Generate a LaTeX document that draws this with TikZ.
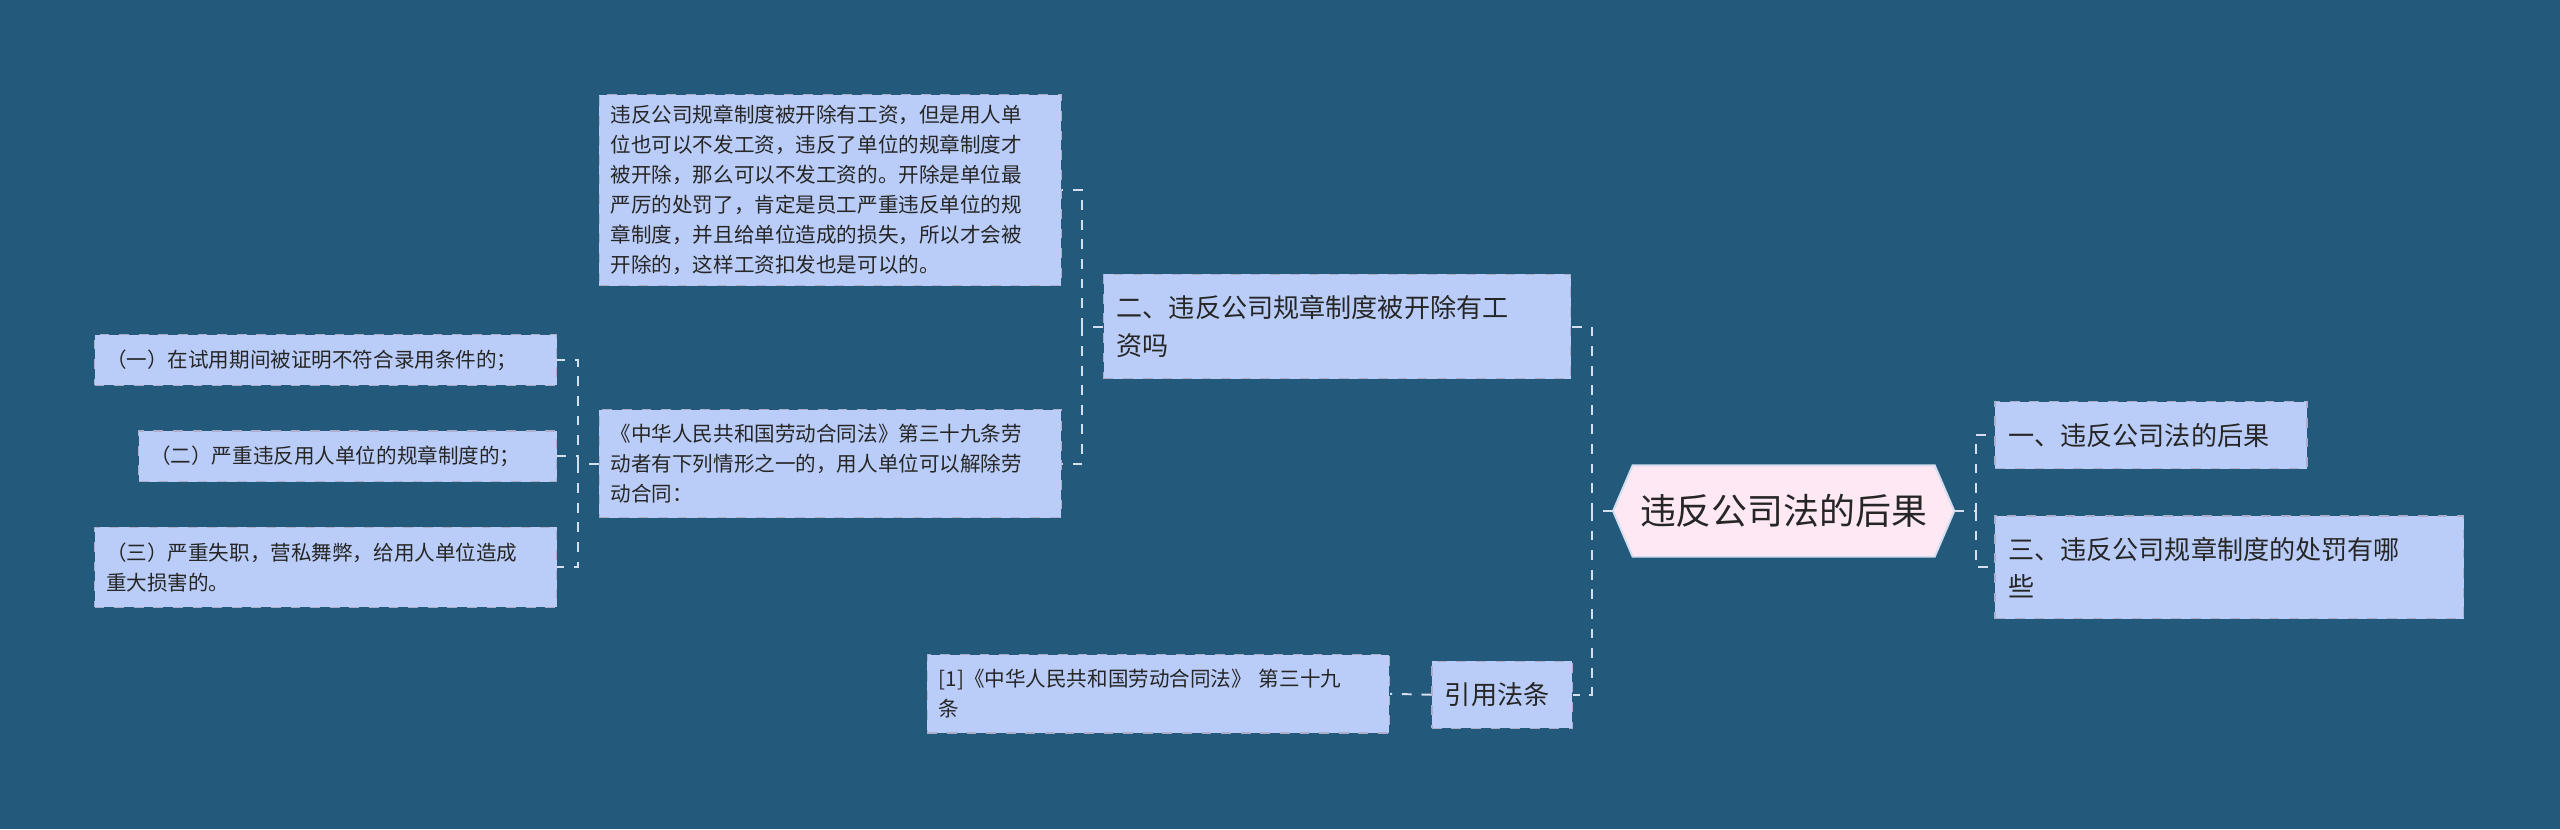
\documentclass[tikz,border=0pt]{standalone}
\usepackage{fontspec}
\setmainfont{Noto Sans CJK SC}
\begin{document}
\begin{tikzpicture}[x=0.5pt,y=-0.5pt,
 box/.style={draw=white!80!blue!60!gray,dashed,fill=boxc,align=left,inner sep=0pt,text=black!85,font=\fontsize{6.3}{9.2}\selectfont},
 big/.style={box,font=\fontsize{8}{11.5}\selectfont},
 conn/.style={draw=linec,dashed,line width=0.6pt}]
\definecolor{bgc}{HTML}{235A7C}
\definecolor{boxc}{HTML}{BACDF8}
\definecolor{linec}{HTML}{D5DEEE}
\definecolor{pinkc}{HTML}{FDE8F4}
\fill[bgc] (0,0) rectangle (1568,508);
\useasboundingbox (0,0) rectangle (1568,508);
% center
\draw[draw=linec,fill=pinkc,line width=0.6pt] (988,313) -- (1000,285) -- (1185,285) -- (1197,313) -- (1185,341) -- (1000,341) -- cycle;
\node[font=\fontsize{11}{13}\selectfont,text=black!85] (c) at (1092.5,313) {违反公司法的后果};
\coordinate (cl) at (988,313); \coordinate (cr) at (1197,313);
% right
\node[big,minimum width=191*0.5pt,minimum height=41*0.5pt,text width=175*0.5pt] (r1) at (1317.5,266.5) {一、违反公司法的后果};
\node[big,minimum width=287*0.5pt,minimum height=63*0.5pt,text width=271*0.5pt] (r2) at (1365.5,347.5) {三、违反公司规章制度的处罚有哪\\些};
% left level 1
\node[big,minimum width=286*0.5pt,minimum height=64*0.5pt,text width=270*0.5pt] (l1) at (819,200) {二、违反公司规章制度被开除有工\\资吗};
\node[big,minimum width=86*0.5pt,minimum height=41*0.5pt,text width=70*0.5pt] (l2) at (920,425.5) {引用法条};
% level 2
\node[box,minimum width=283*0.5pt,minimum height=117*0.5pt,text width=269*0.5pt] (t1) at (508.5,116.5) {违反公司规章制度被开除有工资，但是用人单\\位也可以不发工资，违反了单位的规章制度才\\被开除，那么可以不发工资的。开除是单位最\\严厉的处罚了，肯定是员工严重违反单位的规\\章制度，并且给单位造成的损失，所以才会被\\开除的，这样工资扣发也是可以的。};
\node[box,minimum width=283*0.5pt,minimum height=66*0.5pt,text width=269*0.5pt] (t2) at (508.5,284) {《中华人民共和国劳动合同法》第三十九条劳\\动者有下列情形之一的，用人单位可以解除劳\\动合同：};
\node[box,minimum width=283*0.5pt,minimum height=48*0.5pt,text width=269*0.5pt] (t3) at (709.5,425) {[1]《中华人民共和国劳动合同法》 第三十九\\条};
% level 3
\node[box,minimum width=283*0.5pt,minimum height=31*0.5pt,text width=269*0.5pt] (s1) at (199.5,220.5) {（一）在试用期间被证明不符合录用条件的；};
\node[box,minimum width=256*0.5pt,minimum height=31*0.5pt,text width=242*0.5pt] (s2) at (213,279.5) {（二）严重违反用人单位的规章制度的；};
\node[box,minimum width=283*0.5pt,minimum height=49*0.5pt,text width=269*0.5pt] (s3) at (199.5,347.5) {（三）严重失职，营私舞弊，给用人单位造成\\重大损害的。};
% connectors
\draw[conn] (cl) -- (975,313) |- (l1.east);
\draw[conn] (975,313) |- (l2.east);
\draw[conn] (cr) -- (1210,313) |- (r1.west);
\draw[conn] (1210,313) |- (r2.west);
\draw[conn] (l1.west) -- (663,200) |- (t1.east);
\draw[conn] (663,200) |- (t2.east);
\draw[conn] (l2.west) -- (t3.east);
\draw[conn] (t2.west) -- (354,284) |- (s1.east);
\draw[conn] (354,284) |- (s2.east);
\draw[conn] (354,284) |- (s3.east);
\end{tikzpicture}
\end{document}
